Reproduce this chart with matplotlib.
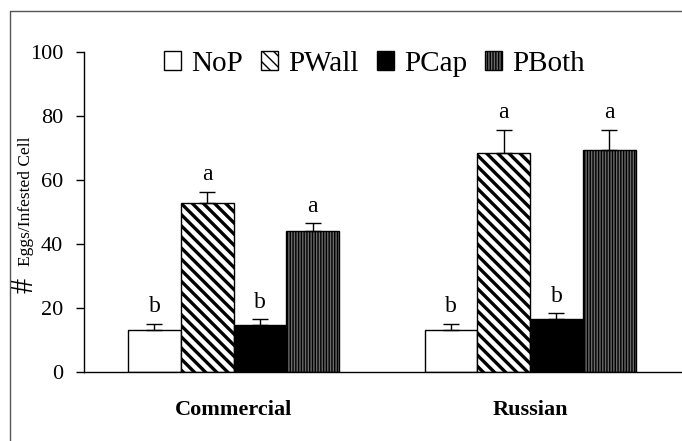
import matplotlib.pyplot as plt
import numpy as np
from matplotlib.lines import Line2D

groups = ['Commercial', 'Russian']
series = ['NoP', 'PWall', 'PCap', 'PBoth']
means = {
    'NoP': [13.2, 13.2],
    'PWall': [52.8, 68.3],
    'PCap': [14.7, 16.5],
    'PBoth': [44.2, 69.5],
}
errs = {
    'NoP': [1.9, 1.9],
    'PWall': [3.6, 7.4],
    'PCap': [1.8, 1.8],
    'PBoth': [2.3, 6.2],
}
letters = {
    'NoP': ['b', 'b'],
    'PWall': ['a', 'a'],
    'PCap': ['b', 'b'],
    'PBoth': ['a', 'a'],
}
styles = {
    'NoP': dict(color='white', hatch=None, hlw=1.0),
    'PWall': dict(color='white', hatch='\\\\\\', hlw=2.4),
    'PCap': dict(color='black', hatch=None, hlw=1.0),
    'PBoth': dict(color='#6a6a6a', hatch='||||||', hlw=1.0),
}

plt.rcParams['font.family'] = ['Liberation Serif', 'DejaVu Serif']

fig = plt.figure(figsize=(6.82, 4.41), dpi=100)
ax = fig.add_axes([0.123, 0.1565, 0.875, 0.7255])

x = np.arange(len(groups))
w = 0.178
offsets = (np.arange(len(series)) - 1.5) * w

handles = []
for i, s in enumerate(series):
    st = styles[s]
    with plt.rc_context({'hatch.linewidth': st['hlw']}):
        bars = ax.bar(x + offsets[i], means[s], w, color=st['color'],
                      edgecolor='black', linewidth=1.0, hatch=st['hatch'],
                      label=s, zorder=2)
    for b in bars:
        if hasattr(b, 'set_hatch_linewidth'):
            b.set_hatch_linewidth(st['hlw'])
    ax.errorbar(x + offsets[i], means[s], yerr=[[0, 0], errs[s]], fmt='none',
                ecolor='black', elinewidth=1.0, capsize=6, capthick=1.0, zorder=3)
    for j in range(len(groups)):
        ax.text(x[j] + offsets[i], means[s][j] + errs[s][j] + 2.0, letters[s][j],
                ha='center', va='bottom', fontsize=17)
    handles.append(bars)

ax.set_xlim(-0.505, 1.508)
ax.set_ylim(0, 100)
ax.set_yticks([0, 20, 40, 60, 80, 100])
ax.tick_params(axis='y', labelsize=16, length=6, width=1.0, direction='out', pad=9)
ax.set_xticks(x)
ax.set_xticklabels(groups, fontsize=16, fontweight='bold')
ax.tick_params(axis='x', length=0, pad=20)
for sp in ['top', 'right']:
    ax.spines[sp].set_visible(False)
ax.spines['left'].set_linewidth(1.0)
ax.spines['bottom'].set_linewidth(1.0)

leg = ax.legend(handles=handles, labels=series, loc='upper center', ncol=4,
                frameon=False, fontsize=21, handlelength=0.6, handleheight=0.6,
                handletextpad=0.35, columnspacing=0.6, borderaxespad=0,
                bbox_to_anchor=(0.487, 1.04))

fig.text(25 / 682, 1 - 285 / 441, '#', rotation=90, fontsize=22,
         ha='center', va='center')
fig.text(26 / 682, 1 - 201 / 441, 'Eggs/Infested Cell', rotation=90, fontsize=12.5,
         ha='center', va='center')

fig.add_artist(Line2D([10 / 682, 10 / 682, 1.0], [0, 1 - 11 / 441, 1 - 11 / 441],
                      transform=fig.transFigure, color='#555555', linewidth=1.0))

fig.savefig('out.png', dpi=100)
